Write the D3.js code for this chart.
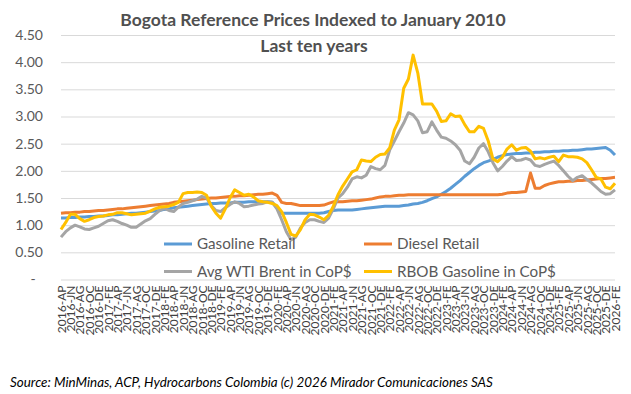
<!DOCTYPE html>
<html>
<head>
<meta charset="utf-8">
<script src="https://cdn.jsdelivr.net/npm/d3@7"></script>
<style>
body { margin: 0; background: #fff; }
svg { font-family: Lato, "Open Sans", sans-serif; }
</style>
</head>
<body>
<svg width="631" height="394"></svg>
<script>
// month codes used on the axis (spanish abbreviations)
var monthCodes = ["EN","FE","MR","AP","MY","JN","JL","AG","SE","OC","NO","DE"];

// categories: 2016-AP .. 2026-FE, monthly
var categories = [];
for (var yr = 2016; yr <= 2026; yr++) {
    for (var m = 0; m < 12; m++) {
        if (yr == 2016 && m < 3) continue;
        if (yr == 2026 && m > 1) continue;
        categories.push(yr + "-" + monthCodes[m]);
    }
}

var yTicks = [0, 0.5, 1, 1.5, 2, 2.5, 3, 3.5, 4, 4.5];

var gasoline = [
    1.13,1.13,1.14,1.14,1.15,1.15,1.16,1.16,1.17,                // 2016
    1.17,1.18,1.19,1.19,1.20,1.21,1.22,1.22,1.23,1.24,1.25,1.26, // 2017
    1.27,1.29,1.30,1.32,1.33,1.34,1.35,1.36,1.37,1.38,1.39,1.40, // 2018
    1.40,1.41,1.41,1.41,1.42,1.42,1.42,1.43,1.43,1.43,1.43,1.43, // 2019
    1.42,1.32,1.22,1.22,1.22,1.22,1.22,1.22,1.22,1.22,1.22,1.23, // 2020
    1.25,1.27,1.28,1.28,1.28,1.28,1.29,1.30,1.31,1.32,1.33,1.34, // 2021
    1.35,1.35,1.35,1.35,1.36,1.37,1.39,1.40,1.42,1.45,1.49,1.52, // 2022
    1.57,1.62,1.68,1.75,1.82,1.90,1.97,2.04,2.10,2.15,2.18,2.21, // 2023
    2.25,2.28,2.30,2.31,2.32,2.32,2.33,2.33,2.34,2.34,2.35,2.35, // 2024
    2.36,2.36,2.37,2.37,2.38,2.38,2.39,2.40,2.40,2.41,2.42,2.43, // 2025
    2.38,2.29                                                    // 2026
];

var diesel = [
    1.22,1.23,1.23,1.24,1.24,1.25,1.25,1.26,1.27,
    1.27,1.28,1.29,1.30,1.30,1.31,1.32,1.33,1.34,1.35,1.36,1.37,
    1.38,1.39,1.40,1.42,1.43,1.44,1.45,1.46,1.47,1.48,1.49,1.50,
    1.50,1.51,1.52,1.53,1.53,1.54,1.54,1.55,1.56,1.57,1.57,1.58,
    1.59,1.55,1.42,1.40,1.40,1.38,1.36,1.36,1.36,1.36,1.36,1.37,
    1.40,1.43,1.43,1.43,1.44,1.45,1.45,1.46,1.47,1.48,1.50,1.52,
    1.53,1.53,1.54,1.55,1.55,1.56,1.56,1.56,1.56,1.56,1.56,1.56,
    1.56,1.56,1.56,1.56,1.56,1.56,1.56,1.56,1.56,1.56,1.56,1.56,
    1.56,1.57,1.59,1.60,1.60,1.61,1.62,1.96,1.68,1.68,1.73,1.76,
    1.78,1.80,1.80,1.81,1.81,1.82,1.82,1.83,1.84,1.85,1.86,1.86,
    1.87,1.88
];

var brent = [
    0.78,0.88,0.95,1.00,0.97,0.93,0.92,0.95,0.98,
    1.03,1.08,1.10,1.07,1.03,1.00,0.96,0.96,1.02,1.08,1.12,1.20,
    1.27,1.31,1.27,1.25,1.33,1.40,1.42,1.45,1.48,1.53,1.50,1.36,
    1.27,1.25,1.32,1.38,1.43,1.40,1.34,1.35,1.37,1.39,1.40,1.43,
    1.42,1.30,1.10,0.88,0.73,0.78,0.95,1.05,1.10,1.10,1.07,1.05,
    1.13,1.30,1.50,1.58,1.70,1.85,1.89,1.87,1.92,2.08,2.04,2.02,
    2.10,2.38,2.55,2.72,2.88,3.07,3.03,2.92,2.70,2.72,2.90,2.75,
    2.62,2.60,2.55,2.48,2.38,2.18,2.13,2.25,2.42,2.50,2.35,2.15,
    2.00,2.08,2.18,2.26,2.19,2.20,2.23,2.20,2.10,2.08,2.12,2.15,
    2.18,2.10,2.00,1.90,1.82,1.88,1.91,1.84,1.78,1.70,1.62,1.57,
    1.58,1.65
];

var rbob = [
    0.92,1.05,1.20,1.20,1.12,1.07,1.10,1.14,1.16,
    1.17,1.19,1.20,1.23,1.23,1.21,1.19,1.20,1.21,1.22,1.26,1.30,
    1.33,1.34,1.35,1.38,1.42,1.58,1.60,1.60,1.61,1.60,1.55,1.35,
    1.22,1.13,1.30,1.50,1.65,1.60,1.55,1.57,1.52,1.45,1.43,1.42,
    1.40,1.36,1.25,1.05,0.83,0.80,0.92,1.10,1.20,1.19,1.15,1.10,
    1.18,1.35,1.56,1.72,1.85,1.98,2.02,2.20,2.18,2.17,2.25,2.30,
    2.31,2.42,2.75,2.94,3.52,3.69,4.13,3.80,3.23,3.23,3.23,3.10,
    2.91,2.92,3.05,3.00,3.01,2.85,2.72,2.72,2.82,2.78,2.55,2.22,
    2.17,2.25,2.40,2.48,2.38,2.42,2.43,2.36,2.22,2.24,2.22,2.25,
    2.27,2.17,2.29,2.26,2.26,2.25,2.22,2.15,2.02,1.88,1.85,1.70,
    1.67,1.77
];

var seriesNames = ["Gasoline Retail", "Diesel Retail", "Avg WTI Brent in CoP$", "RBOB Gasoline in CoP$"];
var seriesColors = ["#5B9BD5", "#ED7D31", "#A5A5A5", "#FFC000"];
var seriesValues = [gasoline, diesel, brent, rbob];

var svg = d3.select("svg"),
    width = +svg.attr("width"),
    height = +svg.attr("height");

// plot box (top/bottom are taken by window, so prefix them)
var plotLeft = 61, plotRight = 615, plotTop = 35, plotBottom = 279.5;

var x = d3.scalePoint().domain(categories).range([plotLeft, plotRight]);
var y = d3.scaleLinear().domain([0, 4.5]).range([plotBottom, plotTop]);

// y axis + gridlines
var yAxis = svg.append("g")
    .attr("transform", "translate(" + plotLeft + ",0)")
    .call(d3.axisLeft(y)
        .tickValues(yTicks)
        .tickSize(-(plotRight - plotLeft))
        .tickPadding(18)
        .tickFormat(function(d) { return d == 0 ? "-" : d3.format(".2f")(d); }));
yAxis.select(".domain").remove();
yAxis.selectAll("line").attr("stroke", "#d9d9d9");
yAxis.selectAll("text")
    .attr("fill", "#595959")
    .style("font-size", "14px")
    .style("font-family", "Lato");
yAxis.selectAll(".tick").filter(function(d) { return d == 0; })
    .select("text").attr("x", -28).attr("text-anchor", "middle");

// x axis, every other month
var xAxis = svg.append("g")
    .attr("transform", "translate(0," + plotBottom + ")")
    .call(d3.axisBottom(x)
        .tickValues(categories.filter(function(d, i) { return i % 2 == 0; }))
        .tickSize(0));
xAxis.select(".domain").remove();
xAxis.selectAll("text")
    .attr("fill", "#404040")
    .style("font-size", "12px")
    .style("font-family", "Lato")
    .attr("text-anchor", "end")
    .attr("transform", "rotate(-90)")
    .attr("x", -6)
    .attr("y", 0)
    .attr("dy", "0.35em");

// lines
var line = d3.line()
    .x(function(d, i) { return x(categories[i]); })
    .y(function(d) { return y(d); });

svg.append("g")
    .selectAll("path")
    .data(seriesValues)
    .enter().append("path")
    .attr("d", line)
    .attr("fill", "none")
    .attr("stroke", function(d, i) { return seriesColors[i]; })
    .attr("stroke-width", 3)
    .attr("stroke-linejoin", "round");

// legend (2 x 2 inside the plot)
var legendPos = [[164, 244], [364, 244], [164, 271.5], [364, 271.5]];
var legend = svg.append("g")
    .selectAll("g")
    .data(seriesNames)
    .enter().append("g")
    .attr("transform", function(d, i) { return "translate(" + legendPos[i][0] + "," + legendPos[i][1] + ")"; });
legend.append("line")
    .attr("x1", 0).attr("x2", 28)
    .attr("stroke", function(d, i) { return seriesColors[i]; })
    .attr("stroke-width", 3);
legend.append("text")
    .attr("x", 33)
    .attr("dy", "0.35em")
    .attr("fill", "#595959")
    .style("font-size", "15.2px")
    .text(function(d) { return d; });

// titles
svg.append("text")
    .attr("x", 313).attr("y", 26)
    .attr("text-anchor", "middle")
    .attr("fill", "#505050")
    .style("font-size", "17.5px")
    .style("font-weight", "bold")
    .text("Bogota Reference Prices Indexed to January 2010");
svg.append("text")
    .attr("x", 314).attr("y", 52)
    .attr("text-anchor", "middle")
    .attr("fill", "#505050")
    .style("font-size", "17.5px")
    .style("font-weight", "bold")
    .text("Last ten years");

svg.append("text")
    .attr("x", 10).attr("y", 387)
    .attr("fill", "#000")
    .style("font-size", "13.4px")
    .style("font-style", "italic")
    .text("Source: MinMinas, ACP, Hydrocarbons Colombia (c) 2026 Mirador Comunicaciones SAS");
</script>
</body>
</html>
